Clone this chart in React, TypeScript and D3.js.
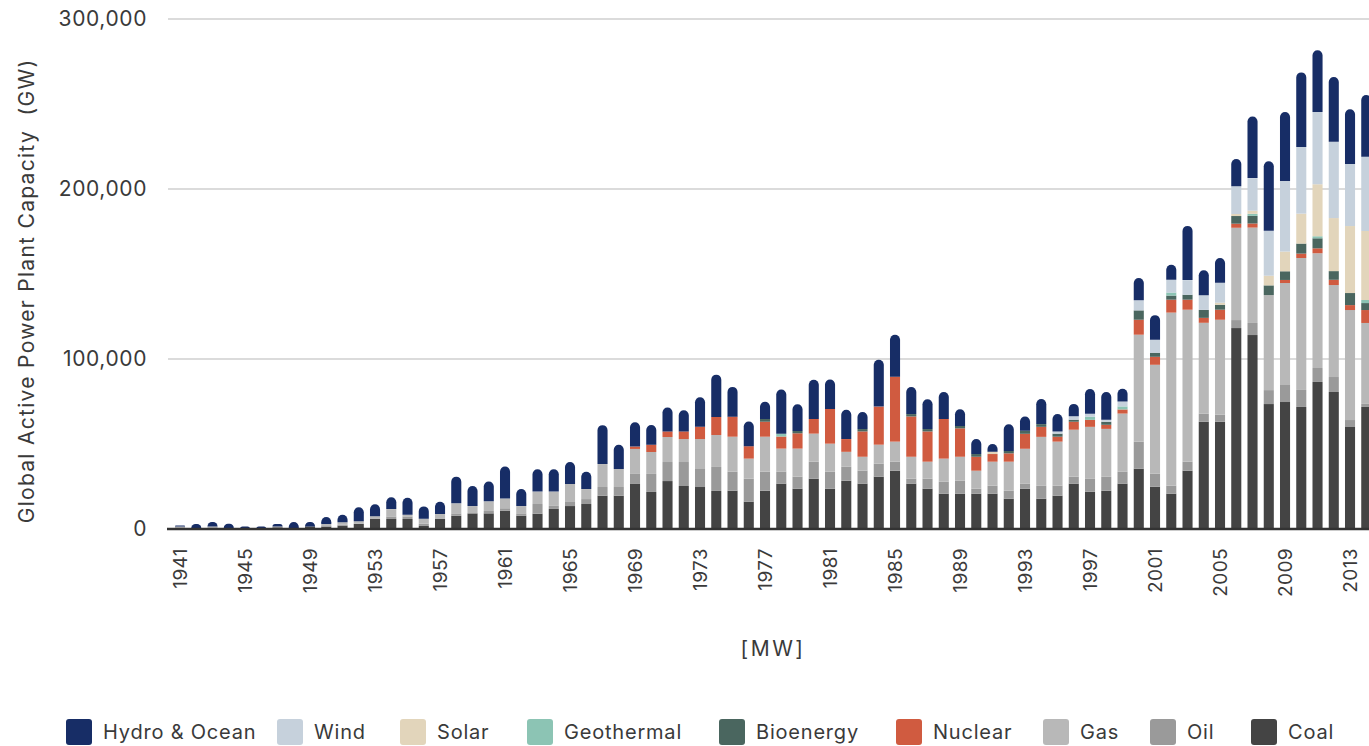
import React from "react";
import * as d3 from "d3";

const years: number[] = d3.range(1941, 2015);

const seriesKeys = ["coal", "oil", "gas", "nuclear", "bioenergy", "geothermal", "solar", "wind", "hydro"];
const seriesLabels: Record<string, string> = {
  hydro: "Hydro & Ocean", wind: "Wind", solar: "Solar", geothermal: "Geothermal",
  bioenergy: "Bioenergy", nuclear: "Nuclear", gas: "Gas", oil: "Oil", coal: "Coal",
};
const legendOrder = ["hydro", "wind", "solar", "geothermal", "bioenergy", "nuclear", "gas", "oil", "coal"];

// values per year 1941..2014 (MW)
const coal = [0, 500, 500, 300, 0, 0, 1000, 500, 1500, 1500, 2000, 3000, 5900, 5900, 5900, 1800, 5900, 7800, 9200, 9200,
  10800, 7800, 9000, 11800, 13500, 14700, 19600, 19600, 26500, 21800, 28200, 25300, 24700, 22400, 22500, 16100, 22500, 26700, 23700, 29600,
  23700, 28400, 26700, 30800, 34300, 26700, 23700, 20800, 20800, 20800, 20800, 17800, 23700, 17800, 19600, 26700, 21900, 22500, 26700, 35500,
  24900, 20800, 34300, 63100, 63100, 118200, 114100, 73500, 74700, 71800, 86500, 80600, 60000, 71800];
const oil = [0, 0, 0, 0, 0, 0, 0, 0, 0, 0, 500, 0, 0, 1500, 1500, 1400, 0, 1400, 0, 1400,
  1400, 1400, 5700, 1800, 2400, 2900, 5100, 5100, 5900, 10600, 11200, 14100, 10600, 14100, 11200, 13500, 11200, 7100, 7100, 10000,
  10000, 8200, 7600, 7600, 5300, 2900, 5900, 7100, 7600, 2900, 4700, 4700, 2900, 7600, 5900, 4100, 7600, 8200, 7100, 15900,
  7600, 4700, 5300, 4700, 4100, 4700, 7100, 8200, 10000, 10000, 8200, 8800, 4100, 1800];
const gas = [1500, 0, 1000, 300, 0, 0, 500, 0, 0, 1500, 1500, 1600, 1600, 4300, 1000, 2900, 2900, 5900, 4300, 5700,
  5700, 4300, 7300, 8400, 10600, 5900, 13500, 10600, 14700, 12900, 14700, 13500, 17600, 18800, 20600, 11800, 20600, 13500, 16500, 16500,
  16500, 8800, 8200, 11200, 11800, 12900, 10000, 13500, 14100, 10600, 14100, 17100, 20600, 28800, 25900, 27600, 30600, 28200, 34100, 62900,
  64100, 101800, 89400, 53500, 55900, 54300, 56100, 55900, 60000, 77600, 67500, 54100, 64700, 47600];
const nuclear = [0, 0, 0, 0, 0, 0, 0, 0, 0, 0, 0, 0, 0, 0, 0, 0, 0, 0, 0, 0,
  0, 0, 0, 0, 0, 0, 0, 0, 1400, 4300, 3300, 4500, 7300, 10600, 11800, 7300, 8800, 7100, 9000, 8600,
  20400, 7500, 14900, 22400, 38200, 23700, 17800, 23300, 16700, 8200, 4500, 4900, 8800, 5900, 2900, 4700, 4100, 2400, 2400, 8800,
  4700, 7600, 5900, 2900, 5900, 2400, 2400, 0, 1800, 2600, 2900, 3100, 2900, 7600];
const bioenergy = [0, 0, 0, 0, 0, 0, 0, 0, 0, 0, 0, 0, 0, 0, 0, 0, 0, 0, 0, 0,
  0, 0, 0, 0, 0, 0, 0, 0, 0, 0, 0, 0, 0, 0, 0, 0, 1600, 0, 1400, 0,
  0, 0, 1400, 0, 0, 1400, 1400, 0, 1400, 1600, 0, 1400, 1800, 1600, 1800, 1200, 0, 1800, 0, 5500,
  2400, 2400, 2900, 4700, 2900, 4500, 4500, 5700, 5100, 5900, 5900, 5100, 7100, 4100];
const geothermal = [0, 0, 0, 0, 0, 0, 0, 0, 0, 0, 0, 0, 0, 0, 0, 0, 0, 0, 0, 0,
  0, 0, 0, 0, 0, 0, 0, 0, 0, 0, 0, 0, 0, 0, 0, 0, 0, 1600, 0, 0,
  0, 0, 0, 0, 0, 0, 0, 0, 0, 0, 0, 0, 0, 0, 0, 0, 1800, 0, 1800, 0,
  0, 1800, 0, 0, 0, 0, 1200, 0, 0, 0, 1200, 0, 0, 1800];
const solar = [0, 0, 0, 0, 0, 0, 0, 0, 0, 0, 0, 0, 0, 0, 0, 0, 0, 0, 0, 0,
  0, 0, 0, 0, 0, 0, 0, 0, 0, 0, 0, 0, 0, 0, 0, 0, 0, 0, 0, 0,
  0, 0, 0, 0, 0, 0, 0, 0, 0, 0, 1400, 0, 0, 0, 0, 0, 0, 0, 0, 0,
  0, 0, 0, 0, 1200, 1200, 1800, 5700, 11600, 17600, 30600, 31200, 39400, 40600];
const wind = [0, 0, 0, 0, 0, 0, 0, 0, 0, 0, 0, 0, 0, 0, 0, 0, 0, 0, 0, 0,
  0, 0, 0, 0, 0, 0, 0, 0, 0, 0, 0, 0, 0, 0, 0, 0, 0, 0, 0, 0,
  0, 0, 0, 0, 0, 0, 0, 0, 0, 0, 0, 0, 0, 0, 1200, 2000, 1800, 1200, 2900, 5900,
  7600, 7500, 8600, 8600, 11800, 16300, 19200, 26500, 41500, 39200, 42500, 44900, 36500, 43700];
const hydro = [500, 2500, 2600, 2500, 1500, 1500, 1500, 3600, 2600, 4000, 4400, 8200, 7000, 7000, 10000, 7200, 7200, 15700, 11800, 11600,
  18800, 10000, 13100, 13100, 12900, 10200, 22900, 14300, 14300, 11600, 14100, 12500, 17300, 24900, 17500, 14500, 10200, 26100, 15700, 23100,
  17300, 17300, 10000, 27600, 24700, 15900, 17500, 15900, 9800, 8800, 4500, 15700, 8400, 14700, 10400, 7300, 14500, 16300, 7500, 13100,
  14500, 8800, 31900, 14700, 14500, 16100, 36300, 40800, 40600, 43900, 36300, 38100, 32200, 36300];

const yTicks = [0, 100000, 200000, 300000];
const xTickYears = years.filter((y) => (y - 1941) % 4 === 0);

const colors: Record<string, string> = {
  hydro: "#172d66", wind: "#c6d1dc", solar: "#e2d5bb", geothermal: "#8cc4b4",
  bioenergy: "#4a665f", nuclear: "#d05b40", gas: "#b8b8b8", oil: "#9a9a9a", coal: "#444444",
};

const seriesData: Record<string, number[]> = { coal, oil, gas, nuclear, bioenergy, geothermal, solar, wind, hydro };

const legendX = [66, 277, 400, 527, 719, 896, 1043, 1150, 1251];

const W = 1369, H = 746;
const FONT = "Inter, 'Open Sans', sans-serif";

export default function App() {
  const rows = years.map((yr, i) => {
    const r: any = { year: yr };
    seriesKeys.forEach((k) => (r[k] = seriesData[k][i]));
    return r;
  });
  const stacked = d3.stack<any>().keys(seriesKeys)(rows);

  const x = d3.scaleBand<number>().domain(years).range([171.9, 171.9 + years.length * 16.25]).paddingInner(0.38).paddingOuter(0.19);
  const y = d3.scaleLinear().domain([0, 300000]).range([529, 19]);
  const bw = x.bandwidth();
  const fmt = d3.format(",");

  const topIdx = years.map((_, i) => {
    let t = -1;
    seriesKeys.forEach((k, j) => { if (seriesData[k][i] > 0) t = j; });
    return t;
  });

  const segs: React.ReactNode[] = [];
  stacked.forEach((layer, j) => {
    layer.forEach((d, i) => {
      const v = d[1] - d[0];
      if (v <= 0) return;
      const x0 = x(years[i])!;
      const yTop = y(d[1]);
      const yBot = y(d[0]);
      const h = yBot - yTop;
      const key = `${layer.key}-${years[i]}`;
      if (topIdx[i] === j) {
        const r = Math.min(bw / 2, h);
        const p = `M${x0},${yBot} L${x0},${yTop + r} A${r},${r} 0 0 1 ${x0 + r},${yTop} L${x0 + bw - r},${yTop} A${r},${r} 0 0 1 ${x0 + bw},${yTop + r} L${x0 + bw},${yBot} Z`;
        segs.push(<path key={key} d={p} fill={colors[layer.key]} />);
      } else {
        segs.push(<rect key={key} x={x0} y={yTop} width={bw} height={h} fill={colors[layer.key]} />);
      }
    });
  });

  return (
    <svg width={W} height={H} style={{ position: "absolute", left: 0, top: 0, background: "#fff" }} fontFamily={FONT}>
      {yTicks.filter((t) => t > 0).map((t) => (
        <line key={t} x1={168} x2={W} y1={y(t)} y2={y(t)} stroke="#cfcfcf" strokeWidth={1.5} />
      ))}
      {yTicks.map((t) => (
        <text key={t} x={147} y={y(t)} dy="0.35em" textAnchor="end" fontSize={21} letterSpacing={0.6} fill="#3a3a3a">{fmt(t)}</text>
      ))}
      {segs}
      <line x1={167} x2={W} y1={529} y2={529} stroke="#333" strokeWidth={2.5} />
      {xTickYears.map((yr) => {
        const cx = x(yr)! + bw / 2;
        return (
          <text key={yr} transform={`translate(${cx + 7},548) rotate(-90)`} textAnchor="end" fontSize={19} letterSpacing={0.4} fill="#3a3a3a">{yr}</text>
        );
      })}
      <text transform="translate(34,291) rotate(-90)" textAnchor="middle" fontSize={21} letterSpacing={1.3} fill="#3a3a3a" style={{ whiteSpace: "pre" }}>Global Active Power Plant Capacity  (GW)</text>
      <text x={773} y={656} textAnchor="middle" fontSize={21} letterSpacing={2.5} fill="#3a3a3a">[MW]</text>
      {legendOrder.map((k, i) => (
        <g key={k} transform={`translate(${legendX[i]},719)`}>
          <rect x={0} y={0} width={26} height={26} rx={3} fill={colors[k]} />
          <text x={37} y={13} dy="0.36em" fontSize={20} letterSpacing={0.8} fill="#3a3a3a">{seriesLabels[k]}</text>
        </g>
      ))}
    </svg>
  );
}
